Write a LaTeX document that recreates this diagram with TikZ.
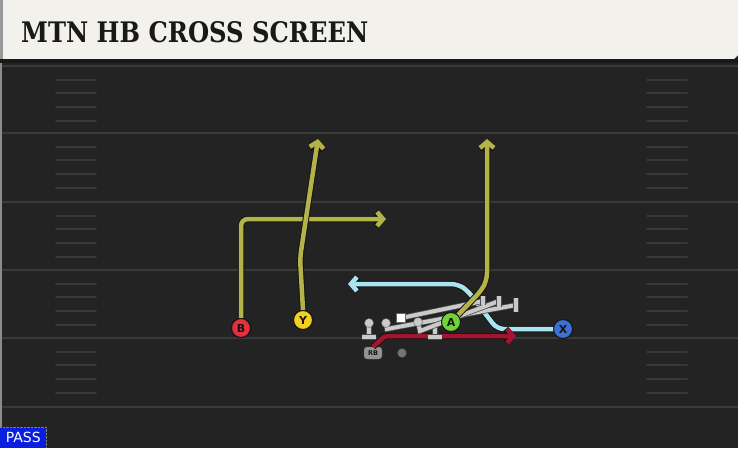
\documentclass[tikz,border=0pt]{standalone}
\usepackage{fontspec}
\newfontfamily\titlefont{DejaVu Serif}
\newfontfamily\lblfont{DejaVu Sans}
\usetikzlibrary{arrows.meta}
\definecolor{fieldc}{HTML}{232323}
\definecolor{hdrc}{HTML}{F3F1EB}
\definecolor{linec}{HTML}{3A3A3A}
\definecolor{hashc}{HTML}{383838}
\definecolor{olivec}{HTML}{B4B34A}
\definecolor{bluec}{HTML}{AAE4F0}
\definecolor{redc}{HTML}{A3142F}
\definecolor{outl}{HTML}{151515}
\definecolor{olc}{HTML}{CACACA}
\definecolor{bcol}{HTML}{E3303F}
\definecolor{ycol}{HTML}{F2D020}
\definecolor{acol}{HTML}{6ED43A}
\definecolor{xcol}{HTML}{3D6FD6}
\definecolor{passc}{HTML}{0A1EE0}
\tikzset{
  route/.style={line width=4.5pt, line join=round, rounded corners=7pt,
    -{Straight Barb[length=6pt,width=14pt]},
    preaction={draw=outl, line width=6.5pt}},
  olroute/.style={route, draw=olivec},
  blroute/.style={route, draw=bluec},
  rdroute/.style={route, draw=redc, rounded corners=2pt},
  player/.style={circle, draw=outl, line width=1pt, minimum size=19pt, inner sep=0pt,
    font=\lblfont\bfseries\fontsize{11}{11}\selectfont, text=outl},
  blk/.style={draw=olc, line width=4pt, preaction={draw=black!70, line width=5.5pt}},
  tbar/.style={draw=olc, line width=4pt, preaction={draw=black!70, line width=5.5pt}},
  olman/.style={circle, fill=olc, draw=black!60, inner sep=0pt, minimum size=9pt},
  majorline/.style={draw=linec, line width=2pt},
  hashline/.style={draw=hashc, line width=2pt, line cap=round}
}
\begin{document}
\begin{tikzpicture}[x=1pt,y=-1pt]
\useasboundingbox (0,0) rectangle (738,448);
\fill[fieldc] (0,0) rectangle (738,448);
% header
\fill[hdrc] (0,0) -- (738,0) -- (738,55) -- (734,59) -- (0,59) -- cycle;
\fill[black!40] (0,0) rectangle (3,59);
\fill[black!90] (0,59) rectangle (738,63);
\fill[black!45] (0,63) rectangle (2,448);
\node[anchor=south west, inner sep=0pt, text=black!90] (title) at (21,43)
  {\resizebox{347pt}{21pt}{\titlefont\bfseries MTN HB CROSS SCREEN}};
% yard lines
\foreach \yy in {66,133,202,270,338,407} {
  \draw[majorline] (2,\yy) -- (738,\yy);
}
\foreach \yy in {66,133,202,270,338} {
  \foreach \k in {1,2,3,4} {
    \draw[hashline] (56,\yy+\k*13.7) -- (96,\yy+\k*13.7);
    \draw[hashline] (647,\yy+\k*13.7) -- (687,\yy+\k*13.7);
  }
}
% players
\node[player, fill=bcol] (B) at (241,328) {B};
\node[player, fill=ycol] (Y) at (303,320) {Y};
\node[player, fill=acol] (A) at (451,322) {A};
\node[player, fill=xcol] (X) at (563,329) {X};
\node[draw=black!60, fill=black!42, rounded corners=3pt, minimum width=18pt, minimum height=12pt,
  inner sep=0pt, font=\lblfont\bfseries\fontsize{6.5}{6.5}\selectfont, text=outl] (RB) at (373,353) {RB};
\node[circle, fill=black!55, inner sep=0pt, minimum size=9pt] (QB) at (402,353) {};
% route coordinates
\coordinate (b1) at (241,219);
\coordinate (b2) at (386,219);
\coordinate (y1) at (300,258);
\coordinate (y2) at (318,139);
\coordinate (a1) at (481,291);
\coordinate (a2) at (487,280);
\coordinate (a3) at (487,139);
\coordinate (x1) at (497,329);
\coordinate (x2) at (468,291);
\coordinate (x3) at (458,284);
\coordinate (x4) at (348,284);
\coordinate (r1) at (385,336);
\coordinate (r2) at (516,336);
% routes
\draw[blroute] (X.west) -- (x1) -- (x2) -- (x3) -- (x4);
\draw[rdroute] (RB.north) -- (r1) -- (r2);
% OL
\coordinate (lt) at (369,323);
\coordinate (ltb) at (369,337);
\coordinate (lg) at (386,323);
\coordinate (lgl) at (387,329);
\coordinate (lge) at (516,305);
\coordinate (cc) at (401,318);
\coordinate (rg) at (418,322);
\coordinate (rgl) at (420,331);
\coordinate (rge) at (499,301);
\coordinate (rt) at (435,325);
\coordinate (rtb) at (435,337);
\draw[blk] (lt) -- (ltb);
\draw[tbar] ([xshift=-7pt]ltb) -- ([xshift=7pt]ltb);
\draw[blk] (rt) -- (rtb);
\draw[tbar] ([xshift=-7pt]rtb) -- ([xshift=7pt]rtb);
\draw[blk] (lg) -- (lgl) -- (lge);
\draw[tbar] ([yshift=-7pt]lge) -- ([yshift=7pt]lge);
\draw[blk] (rg) -- (rgl) -- (rge);
\draw[tbar] ([yshift=-6pt]rge) -- ([yshift=5pt]rge);
\draw[blk] (cc) -- (483,301);
\draw[tbar] (483,296) -- (483,305);
\node[olman] (LT) at (lt) {};
\node[olman] (LG) at (lg) {};
\node[olman] (RG) at (rg) {};
\node[fill=white, draw=black!60, inner sep=0pt, minimum size=9pt] (C) at (cc) {};
% routes over line
\draw[olroute] (B.north) -- (b1) -- (b2);
\draw[olroute] (Y.north) -- (y1) -- (y2);
\draw[olroute] (A.north east) -- (a1) -- (a2) -- (a3);
% redraw players on top
\node[player, fill=acol] at (A) {A};
\node[player, fill=bcol] at (B) {B};
\node[player, fill=ycol] at (Y) {Y};
% pass label
\draw[black!50, densely dotted] (0,427) -- (46,427) -- (46,448);
\node[fill=passc, anchor=south west, minimum width=46pt, minimum height=20pt, inner sep=0pt,
  text=white, font=\lblfont\fontsize{14}{14}\selectfont] (pass) at (0,448) {PASS};
\end{tikzpicture}
\end{document}
